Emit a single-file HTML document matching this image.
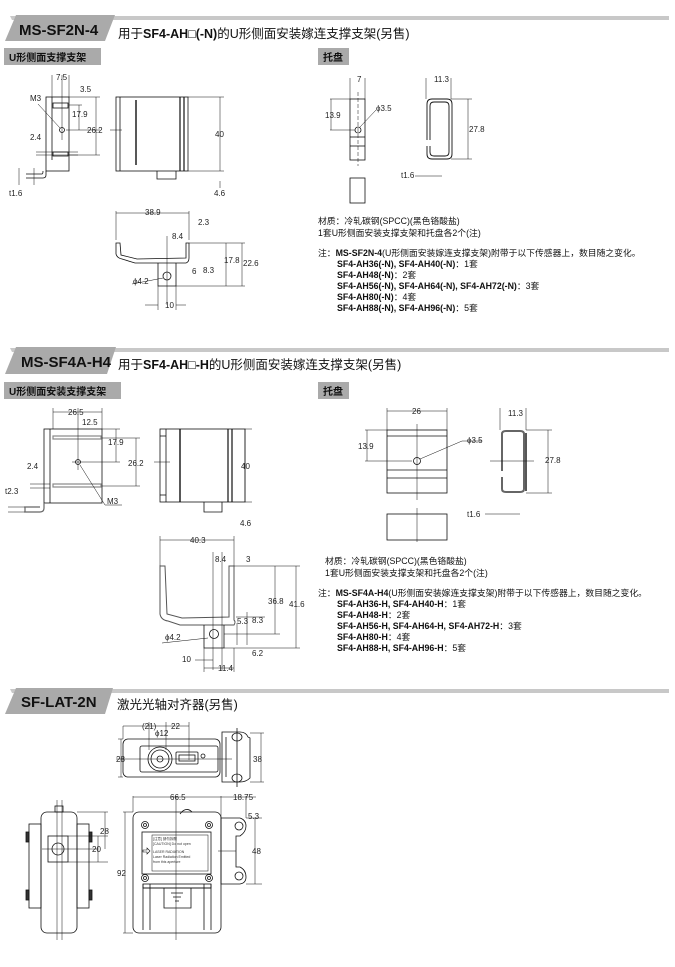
<!DOCTYPE html>
<html><head><meta charset="utf-8"><style>
html,body{margin:0;padding:0;background:#fff;}
svg{display:block;font-family:"Liberation Sans","Noto Sans CJK SC",sans-serif;}
.d{font-size:8px;fill:#222;}
.n{font-size:8.8px;fill:#111;}
.b{font-weight:bold;}
</style></head><body>
<svg width="675" height="967" viewBox="0 0 675 967" xmlns="http://www.w3.org/2000/svg">
<g fill="none" stroke="#111" stroke-width="0.8">

<!-- ========== SECTION 1 ========== -->
<polygon points="10,16 669,16 669,20 12,20" fill="#c8c8c8" stroke="none"/>
<polygon points="5,41 16,15 115,15 105,41" fill="#aaa" stroke="none"/>
<rect x="4" y="48" width="97" height="17" fill="#aaa" stroke="none"/>
<rect x="318" y="48" width="31" height="17" fill="#aaa" stroke="none"/>

<rect x="46" y="97" width="23" height="74"/>
<line x1="52" y1="97" x2="52" y2="160"/>
<rect x="53" y="103" width="15" height="5"/>
<rect x="53" y="152" width="15" height="4"/>
<circle cx="62" cy="130" r="2.5"/>
<path d="M46,171 L46,175 Q46,178 43,178 L26,178 M26,174 L42,174 Q43,174 43,171"/>
<line x1="62" y1="75" x2="62" y2="140" stroke-width="0.5"/>
<line x1="52" y1="75" x2="52" y2="97" stroke-width="0.5"/>
<line x1="69" y1="75" x2="69" y2="97" stroke-width="0.5"/>
<line x1="36" y1="155" x2="78" y2="155" stroke-width="0.5"/>
<line x1="36" y1="152" x2="78" y2="152" stroke-width="0.5"/>
<line x1="66" y1="130" x2="100" y2="130" stroke-width="0.5"/>
<line x1="69" y1="105" x2="82" y2="105" stroke-width="0.5"/>
<line x1="69" y1="97" x2="100" y2="97" stroke-width="0.5"/>
<line x1="69" y1="155" x2="100" y2="155" stroke-width="0.5"/>
<line x1="79" y1="105" x2="79" y2="130" stroke-width="0.5"/>
<line x1="96" y1="97" x2="96" y2="155" stroke-width="0.5"/>
<line x1="19" y1="168" x2="19" y2="185" stroke-width="0.5"/>
<line x1="34" y1="168" x2="34" y2="185" stroke-width="0.5"/>
<line x1="38" y1="104" x2="60" y2="128" stroke-width="0.5"/>

<rect x="116" y="97" width="72" height="74"/>
<line x1="120" y1="97" x2="120" y2="171"/>
<line x1="136" y1="100" x2="136" y2="165" stroke-width="1.4"/>
<line x1="180" y1="97" x2="180" y2="171" stroke-width="1.2"/>
<line x1="184" y1="97" x2="184" y2="171" stroke-width="1.2"/>
<path d="M157,171 L157,179 L176,179 L176,171"/>
<line x1="188" y1="97" x2="224" y2="97" stroke-width="0.5"/>
<line x1="188" y1="171" x2="224" y2="171" stroke-width="0.5"/>
<line x1="220" y1="97" x2="220" y2="171" stroke-width="0.5"/>
<line x1="220" y1="181" x2="220" y2="188" stroke-width="0.5"/>
<line x1="110" y1="130" x2="122" y2="130" stroke-width="0.5"/>

<path d="M116,243 L116,254 Q117,258 122,259 L135,263 L186,263 Q189,262 189,258 L189,243 L186,243 L186,258 L137,259 L121,255 L120,243 Z"/>
<path d="M158,263 L158,286 L176,286 L176,263"/>
<circle cx="167" cy="276" r="4"/>
<line x1="116" y1="211" x2="116" y2="240" stroke-width="0.5"/>
<line x1="189" y1="211" x2="189" y2="240" stroke-width="0.5"/>
<line x1="116" y1="213" x2="189" y2="213" stroke-width="0.5"/>
<line x1="167" y1="236" x2="167" y2="305" stroke-width="0.5"/>
<line x1="189" y1="243" x2="245" y2="243" stroke-width="0.5"/>
<line x1="176" y1="286" x2="245" y2="286" stroke-width="0.5"/>
<line x1="226" y1="243" x2="226" y2="286" stroke-width="0.5"/>
<line x1="242" y1="243" x2="242" y2="286" stroke-width="0.5"/>
<line x1="176" y1="305" x2="186" y2="305" stroke-width="0.5"/>
<line x1="145" y1="305" x2="158" y2="305" stroke-width="0.5"/>
<line x1="158" y1="286" x2="158" y2="310" stroke-width="0.5"/>
<line x1="176" y1="286" x2="176" y2="310" stroke-width="0.5"/>
<line x1="132" y1="284" x2="163" y2="278" stroke-width="0.5"/>

<rect x="350" y="99" width="15" height="61"/>
<line x1="350" y1="137" x2="365" y2="137"/>
<line x1="350" y1="146" x2="365" y2="146"/>
<circle cx="358" cy="130" r="3"/>
<line x1="358" y1="92" x2="358" y2="166" stroke-width="0.5" stroke-dasharray="4,2"/>
<rect x="350" y="178" width="15" height="25"/>
<line x1="350" y1="78" x2="350" y2="99" stroke-width="0.5"/>
<line x1="365" y1="78" x2="365" y2="99" stroke-width="0.5"/>
<line x1="330" y1="99" x2="350" y2="99" stroke-width="0.5"/>
<line x1="330" y1="130" x2="355" y2="130" stroke-width="0.5"/>
<line x1="331" y1="99" x2="331" y2="130" stroke-width="0.5"/>
<line x1="360" y1="127" x2="376" y2="110" stroke-width="0.5"/>
<path d="M427,140 L427,104 Q427,99 432,99 L447,99 Q452,99 452,104 L452,154 Q452,159 447,159 L432,159 Q427,159 427,154 L427,146" stroke-width="0.9"/>
<path d="M430,140 L430,106 Q430,102 434,102 L445,102 Q449,102 449,106 L449,152 Q449,156 445,156 L434,156 Q430,156 430,152 L430,146" stroke-width="0.9"/>
<line x1="426" y1="78" x2="426" y2="99" stroke-width="0.5"/>
<line x1="451" y1="78" x2="451" y2="99" stroke-width="0.5"/>
<line x1="451" y1="99" x2="472" y2="99" stroke-width="0.5"/>
<line x1="451" y1="159" x2="472" y2="159" stroke-width="0.5"/>
<line x1="468" y1="99" x2="468" y2="159" stroke-width="0.5"/>
<line x1="415" y1="176" x2="442" y2="176" stroke-width="0.5"/>

<!-- ========== SECTION 2 ========== -->
<polygon points="10,348 669,348 669,352 12,352" fill="#c8c8c8" stroke="none"/>
<polygon points="5,374 16,347 116,347 107,374" fill="#aaa" stroke="none"/>
<rect x="4" y="382" width="117" height="17" fill="#aaa" stroke="none"/>
<rect x="318" y="382" width="31" height="17" fill="#aaa" stroke="none"/>

<rect x="44" y="429" width="58" height="74"/>
<line x1="50" y1="429" x2="50" y2="503"/>
<rect x="53" y="436" width="48" height="3" stroke="#888" stroke-width="1.2"/>
<rect x="53" y="484" width="48" height="3" stroke="#888" stroke-width="1.2"/>
<circle cx="78" cy="462" r="2.5"/>
<path d="M44,503 L44,508 Q44,512 40,512 L25,512 L25,507 L40,507" stroke="#666" stroke-width="1.2"/>
<line x1="78" y1="408" x2="78" y2="470" stroke-width="0.5"/>
<line x1="53" y1="408" x2="53" y2="429" stroke-width="0.5"/>
<line x1="102" y1="408" x2="102" y2="429" stroke-width="0.5"/>
<line x1="53" y1="412" x2="102" y2="412" stroke-width="0.5"/>
<line x1="102" y1="429" x2="120" y2="429" stroke-width="0.5"/>
<line x1="102" y1="438" x2="140" y2="438" stroke-width="0.5"/>
<line x1="72" y1="462" x2="120" y2="462" stroke-width="0.5"/>
<line x1="102" y1="486" x2="140" y2="486" stroke-width="0.5"/>
<line x1="116" y1="429" x2="116" y2="462" stroke-width="0.5"/>
<line x1="136" y1="438" x2="136" y2="486" stroke-width="0.5"/>
<line x1="30" y1="484" x2="50" y2="484" stroke-width="0.5"/>
<line x1="30" y1="488" x2="50" y2="488" stroke-width="0.5"/>
<line x1="8" y1="507" x2="25" y2="507" stroke-width="0.5"/>
<line x1="8" y1="512" x2="25" y2="512" stroke-width="0.5"/>
<line x1="80" y1="465" x2="105" y2="505" stroke-width="0.5"/>
<line x1="105" y1="505" x2="122" y2="505" stroke-width="0.5"/>

<rect x="160" y="429" width="85" height="73"/>
<line x1="166" y1="429" x2="166" y2="502"/>
<line x1="160" y1="436" x2="166" y2="436"/>
<line x1="160" y1="495" x2="166" y2="495"/>
<line x1="180" y1="429" x2="180" y2="502" stroke-width="1.4"/>
<line x1="228" y1="429" x2="228" y2="502" stroke-width="1.2"/>
<line x1="232" y1="429" x2="232" y2="502" stroke-width="1.2"/>
<path d="M204,502 L204,512 L222,512 L222,502"/>
<line x1="245" y1="429" x2="252" y2="429" stroke-width="0.5"/>
<line x1="245" y1="502" x2="252" y2="502" stroke-width="0.5"/>
<line x1="245" y1="429" x2="245" y2="502" stroke-width="0.5"/>
<line x1="154" y1="462" x2="170" y2="462" stroke-width="0.5"/>

<path d="M160,566 L160,614 Q161,620 168,621 L180,625 L234,625 Q236,622 234,620 L234,566 L229,566 L229,617 L182,618 L167,614 L165,566 Z" stroke="#555" stroke-width="1"/>
<path d="M204,625 L204,648 L224,648 L224,625"/>
<circle cx="214" cy="634" r="4.5"/>
<line x1="160" y1="536" x2="160" y2="566" stroke-width="0.5"/>
<line x1="234" y1="536" x2="234" y2="566" stroke-width="0.5"/>
<line x1="160" y1="540" x2="234" y2="540" stroke-width="0.5"/>
<line x1="213" y1="552" x2="213" y2="670" stroke-width="0.5"/>
<line x1="222" y1="552" x2="222" y2="670" stroke-width="0.5"/>
<line x1="234" y1="566" x2="300" y2="566" stroke-width="0.5"/>
<line x1="224" y1="634" x2="280" y2="634" stroke-width="0.5"/>
<line x1="224" y1="648" x2="300" y2="648" stroke-width="0.5"/>
<line x1="275" y1="566" x2="275" y2="634" stroke-width="0.5"/>
<line x1="296" y1="566" x2="296" y2="648" stroke-width="0.5"/>
<line x1="236" y1="617" x2="265" y2="617" stroke-width="0.5"/>
<line x1="237" y1="623" x2="237" y2="645" stroke-width="0.5"/>
<line x1="247" y1="612" x2="247" y2="645" stroke-width="0.5"/>
<line x1="162" y1="643" x2="208" y2="638" stroke-width="0.5"/>
<line x1="195" y1="660" x2="213" y2="660" stroke-width="0.5"/>
<line x1="204" y1="648" x2="204" y2="672" stroke-width="0.5"/>
<line x1="234" y1="648" x2="234" y2="672" stroke-width="0.5"/>
<line x1="204" y1="668" x2="234" y2="668" stroke-width="0.5"/>

<rect x="387" y="430" width="60" height="63"/>
<line x1="387" y1="436" x2="447" y2="436"/>
<line x1="387" y1="470" x2="447" y2="470"/>
<line x1="387" y1="478" x2="447" y2="478"/>
<circle cx="417" cy="461" r="3.5"/>
<line x1="417" y1="424" x2="417" y2="500" stroke-width="0.5"/>
<rect x="387" y="514" width="60" height="26"/>
<line x1="417" y1="508" x2="417" y2="542" stroke-width="0.5"/>
<line x1="387" y1="408" x2="387" y2="430" stroke-width="0.5"/>
<line x1="447" y1="408" x2="447" y2="430" stroke-width="0.5"/>
<line x1="387" y1="411" x2="447" y2="411" stroke-width="0.5"/>
<line x1="365" y1="430" x2="387" y2="430" stroke-width="0.5"/>
<line x1="365" y1="461" x2="412" y2="461" stroke-width="0.5"/>
<line x1="367" y1="430" x2="367" y2="461" stroke-width="0.5"/>
<line x1="420" y1="459" x2="462" y2="441" stroke-width="0.5"/>
<line x1="462" y1="441" x2="482" y2="441" stroke-width="0.5"/>
<path d="M502,471 L502,434 Q502,431 506,431 L520,431 Q524,431 524,434 L524,489 Q524,492 520,492 L506,492 Q502,492 502,489 L502,477" stroke="#666" stroke-width="2"/>
<line x1="526" y1="433" x2="526" y2="491" stroke-width="1.4"/>
<line x1="490" y1="461" x2="534" y2="461" stroke-width="0.5"/>
<line x1="500" y1="408" x2="500" y2="430" stroke-width="0.5"/>
<line x1="526" y1="408" x2="526" y2="430" stroke-width="0.5"/>
<line x1="526" y1="430" x2="552" y2="430" stroke-width="0.5"/>
<line x1="526" y1="493" x2="552" y2="493" stroke-width="0.5"/>
<line x1="548" y1="430" x2="548" y2="493" stroke-width="0.5"/>
<line x1="485" y1="514" x2="520" y2="514" stroke-width="0.5"/>

<!-- ========== SECTION 3 ========== -->
<polygon points="10,689 669,689 669,693 12,693" fill="#c8c8c8" stroke="none"/>
<polygon points="5,714 16,688 113,688 105,714" fill="#aaa" stroke="none"/>

<rect x="123" y="739" width="97" height="38" rx="5"/>
<rect x="140" y="746" width="78" height="26" rx="2"/>
<circle cx="160" cy="759" r="12"/>
<circle cx="160" cy="759" r="9"/>
<circle cx="160" cy="759" r="3"/>
<rect x="176" y="752" width="22" height="12" rx="1"/>
<rect x="179" y="755" width="16" height="6"/>
<circle cx="203" cy="756" r="2"/>
<path d="M222,732 L240,732 Q246,732 248,737 L250,738 L250,778 Q246,782 240,782 L222,782 Z"/>
<line x1="226" y1="737" x2="226" y2="777"/>
<ellipse cx="237" cy="737" rx="5" ry="4"/>
<ellipse cx="237" cy="778" rx="5" ry="4"/>
<line x1="237" y1="728" x2="237" y2="787"/>
<line x1="116" y1="759" x2="232" y2="759" stroke-width="0.5"/>
<line x1="123" y1="726" x2="123" y2="739" stroke-width="0.5"/>
<line x1="149" y1="722" x2="149" y2="750" stroke-width="0.5"/>
<line x1="166" y1="722" x2="166" y2="750" stroke-width="0.5"/>
<line x1="189" y1="722" x2="189" y2="760" stroke-width="0.5"/>
<line x1="123" y1="726" x2="189" y2="726" stroke-width="0.5"/>
<line x1="118" y1="739" x2="123" y2="739" stroke-width="0.5"/>
<line x1="118" y1="777" x2="123" y2="777" stroke-width="0.5"/>
<line x1="121" y1="739" x2="121" y2="777" stroke-width="0.5"/>
<line x1="250" y1="733" x2="264" y2="733" stroke-width="0.5"/>
<line x1="250" y1="782" x2="264" y2="782" stroke-width="0.5"/>
<line x1="261" y1="733" x2="261" y2="782" stroke-width="0.5"/>

<rect x="133" y="812" width="88" height="121" rx="6"/>
<rect x="142" y="832" width="69" height="42"/>
<rect x="152" y="835" width="56" height="36" stroke-width="0.5"/>
<path d="M143,884 L143,930 M150,884 L150,930 M143,888 L211,888 M211,884 L211,930 M204,884 L204,930" stroke-width="0.8"/>
<rect x="143" y="884" width="68" height="4"/>
<path d="M164,888 L164,908 L191,908 L191,888"/>
<path d="M171,893 L183,893 M173,897 L181,897 M175,901 L179,901"/>
<path d="M180,814 Q186,806 192,812" stroke-width="0.8"/>
<circle cx="145" cy="825" r="3.5"/><circle cx="145" cy="825" r="1.5"/>
<circle cx="209" cy="825" r="3.5"/><circle cx="209" cy="825" r="1.5"/>
<circle cx="145" cy="878" r="3.5"/><circle cx="145" cy="878" r="1.5"/>
<circle cx="209" cy="878" r="3.5"/><circle cx="209" cy="878" r="1.5"/>
<path d="M221,818 L240,818 Q246,820 246,826 Q246,832 240,836 L236,836 L236,867 L240,867 Q246,870 246,877 Q246,883 240,884 L221,884 Z"/>
<circle cx="239" cy="826" r="4"/>
<circle cx="239" cy="876" r="4"/>
<line x1="176" y1="796" x2="176" y2="940" stroke-width="0.5"/>
<line x1="133" y1="796" x2="133" y2="812" stroke-width="0.5"/>
<line x1="221" y1="796" x2="221" y2="818" stroke-width="0.5"/>
<line x1="246" y1="796" x2="246" y2="818" stroke-width="0.5"/>
<line x1="133" y1="797" x2="256" y2="797" stroke-width="0.5"/>
<line x1="123" y1="812" x2="133" y2="812" stroke-width="0.5"/>
<line x1="123" y1="933" x2="133" y2="933" stroke-width="0.5"/>
<line x1="125" y1="812" x2="125" y2="933" stroke-width="0.5"/>
<line x1="246" y1="818" x2="262" y2="818" stroke-width="0.5"/>
<line x1="246" y1="884" x2="262" y2="884" stroke-width="0.5"/>
<line x1="255" y1="818" x2="255" y2="884" stroke-width="0.5"/>
<line x1="218" y1="851" x2="236" y2="851" stroke-width="0.5"/>
<path d="M150,851 L147,848 L147,850 L143,850 L143,852 L147,852 L147,854 Z" stroke-width="0.6"/>

<rect x="41" y="812" width="36" height="121" rx="6"/>
<rect x="29" y="824" width="12" height="84"/>
<rect x="77" y="824" width="12" height="84"/>
<rect x="26" y="832" width="3" height="10" fill="#333"/>
<rect x="26" y="890" width="3" height="10" fill="#333"/>
<rect x="89" y="832" width="3" height="10" fill="#333"/>
<rect x="89" y="890" width="3" height="10" fill="#333"/>
<rect x="55" y="806" width="8" height="6"/>
<rect x="48" y="836" width="20" height="26"/>
<circle cx="58" cy="849" r="6"/>
<line x1="57" y1="800" x2="57" y2="940" stroke-width="0.5"/>
<line x1="62" y1="800" x2="62" y2="940" stroke-width="0.5"/>
<line x1="42" y1="849" x2="98" y2="849" stroke-width="0.5"/>
<line x1="77" y1="812" x2="108" y2="812" stroke-width="0.5"/>
<line x1="68" y1="836" x2="108" y2="836" stroke-width="0.5"/>
<line x1="68" y1="862" x2="108" y2="862" stroke-width="0.5"/>
<line x1="105" y1="812" x2="105" y2="849" stroke-width="0.5"/>
<line x1="98" y1="836" x2="98" y2="862" stroke-width="0.5"/>
</g>

<g>
<text x="19" y="35" font-size="15" font-weight="bold" fill="#111">MS-SF2N-4</text>
<text x="118" y="38" font-size="12.5" fill="#111">用于<tspan font-weight="bold">SF4-AH□(-N)</tspan>的U形侧面安装嫁连支撑支架(另售)</text>
<text x="9" y="61" font-size="10" font-weight="bold" fill="#111">U形侧面支撑支架</text>
<text x="323" y="61" font-size="10" font-weight="bold" fill="#111">托盘</text>

<text class="d" x="56" y="80">7.5</text>
<text class="d" x="80" y="92">3.5</text>
<text class="d" x="30" y="101">M3</text>
<text class="d" x="72" y="117">17.9</text>
<text class="d" x="87" y="133">26.2</text>
<text class="d" x="30" y="140">2.4</text>
<text class="d" x="9" y="196">t1.6</text>
<text class="d" x="215" y="137">40</text>
<text class="d" x="214" y="196">4.6</text>
<text class="d" x="145" y="215">38.9</text>
<text class="d" x="198" y="225">2.3</text>
<text class="d" x="172" y="239">8.4</text>
<text class="d" x="224" y="263">17.8</text>
<text class="d" x="243" y="266">22.6</text>
<text class="d" x="192" y="274">6</text>
<text class="d" x="203" y="273">8.3</text>
<text class="d" x="133" y="284">ϕ4.2</text>
<text class="d" x="165" y="308">10</text>

<text class="d" x="357" y="82">7</text>
<text class="d" x="325" y="118">13.9</text>
<text class="d" x="376" y="111">ϕ3.5</text>
<text class="d" x="434" y="82">11.3</text>
<text class="d" x="469" y="132">27.8</text>
<text class="d" x="401" y="178">t1.6</text>

<text class="n" x="318" y="224">材质：冷轧碳钢(SPCC)(黑色铬酸盐)</text>
<text class="n" x="318" y="236">1套U形侧面安装支撑支架和托盘各2个(注)</text>
<text class="n" x="318" y="256">注：<tspan class="b">MS-SF2N-4</tspan>(U形侧面安装嫁连支撑支架)附带于以下传感器上，数目随之变化。</text>
<text class="n" x="337" y="267"><tspan class="b">SF4-AH36(-N), SF4-AH40(-N)</tspan>：1套</text>
<text class="n" x="337" y="278"><tspan class="b">SF4-AH48(-N)</tspan>：2套</text>
<text class="n" x="337" y="289"><tspan class="b">SF4-AH56(-N), SF4-AH64(-N), SF4-AH72(-N)</tspan>：3套</text>
<text class="n" x="337" y="300"><tspan class="b">SF4-AH80(-N)</tspan>：4套</text>
<text class="n" x="337" y="311"><tspan class="b">SF4-AH88(-N), SF4-AH96(-N)</tspan>：5套</text>

<text x="21" y="367" font-size="15" font-weight="bold" fill="#111">MS-SF4A-H4</text>
<text x="118" y="369" font-size="12.5" fill="#111">用于<tspan font-weight="bold">SF4-AH□-H</tspan>的U形侧面安装嫁连支撑支架(另售)</text>
<text x="9" y="395" font-size="10" font-weight="bold" fill="#111">U形侧面安装支撑支架</text>
<text x="323" y="395" font-size="10" font-weight="bold" fill="#111">托盘</text>

<text class="d" x="68" y="415">26.5</text>
<text class="d" x="82" y="425">12.5</text>
<text class="d" x="108" y="445">17.9</text>
<text class="d" x="128" y="466">26.2</text>
<text class="d" x="27" y="469">2.4</text>
<text class="d" x="5" y="494">t2.3</text>
<text class="d" x="107" y="504">M3</text>
<text class="d" x="241" y="469">40</text>
<text class="d" x="240" y="526">4.6</text>
<text class="d" x="190" y="543">40.3</text>
<text class="d" x="215" y="562">8.4</text>
<text class="d" x="246" y="562">3</text>
<text class="d" x="268" y="604">36.8</text>
<text class="d" x="289" y="607">41.6</text>
<text class="d" x="237" y="624">5.3</text>
<text class="d" x="252" y="623">8.3</text>
<text class="d" x="165" y="640">ϕ4.2</text>
<text class="d" x="252" y="656">6.2</text>
<text class="d" x="182" y="662">10</text>
<text class="d" x="218" y="671">11.4</text>

<text class="d" x="412" y="414">26</text>
<text class="d" x="358" y="449">13.9</text>
<text class="d" x="467" y="443">ϕ3.5</text>
<text class="d" x="508" y="416">11.3</text>
<text class="d" x="545" y="463">27.8</text>
<text class="d" x="467" y="517">t1.6</text>

<text class="n" x="325" y="564">材质：冷轧碳钢(SPCC)(黑色铬酸盐)</text>
<text class="n" x="325" y="576">1套U形侧面安装支撑支架和托盘各2个(注)</text>
<text class="n" x="318" y="596">注：<tspan class="b">MS-SF4A-H4</tspan>(U形侧面安装嫁连支撑支架)附带于以下传感器上，数目随之变化。</text>
<text class="n" x="337" y="607"><tspan class="b">SF4-AH36-H, SF4-AH40-H</tspan>：1套</text>
<text class="n" x="337" y="618"><tspan class="b">SF4-AH48-H</tspan>：2套</text>
<text class="n" x="337" y="629"><tspan class="b">SF4-AH56-H, SF4-AH64-H, SF4-AH72-H</tspan>：3套</text>
<text class="n" x="337" y="640"><tspan class="b">SF4-AH80-H</tspan>：4套</text>
<text class="n" x="337" y="651"><tspan class="b">SF4-AH88-H, SF4-AH96-H</tspan>：5套</text>

<text x="21" y="707" font-size="15" font-weight="bold" fill="#111">SF-LAT-2N</text>
<text x="117" y="709" font-size="12.5" fill="#111">激光光轴对齐器(另售)</text>

<text class="d" x="142" y="729">(21)</text>
<text class="d" x="171" y="729">22</text>
<text class="d" x="155" y="736">ϕ12</text>
<text class="d" x="116" y="762">28</text>
<text class="d" x="253" y="762">38</text>
<text class="d" x="170" y="800">66.5</text>
<text class="d" x="233" y="800">18.75</text>
<text class="d" x="248" y="819">5.3</text>
<text class="d" x="252" y="854">48</text>
<text class="d" x="117" y="876">92</text>
<text class="d" x="100" y="834">28</text>
<text class="d" x="92" y="852">20</text>
<text x="153" y="840" font-size="3.5" fill="#333">[注意] 請勿拆開</text>
<text x="153" y="845" font-size="3.5" fill="#333">[CAUTION] Do not open</text>
<text x="153" y="853" font-size="3.5" fill="#333">LASER RADIATION</text>
<text x="153" y="858" font-size="3.5" fill="#333">Laser Radiation Emitted</text>
<text x="153" y="863" font-size="3.5" fill="#333">from this aperture</text>
</g>
</svg>
</body></html>
